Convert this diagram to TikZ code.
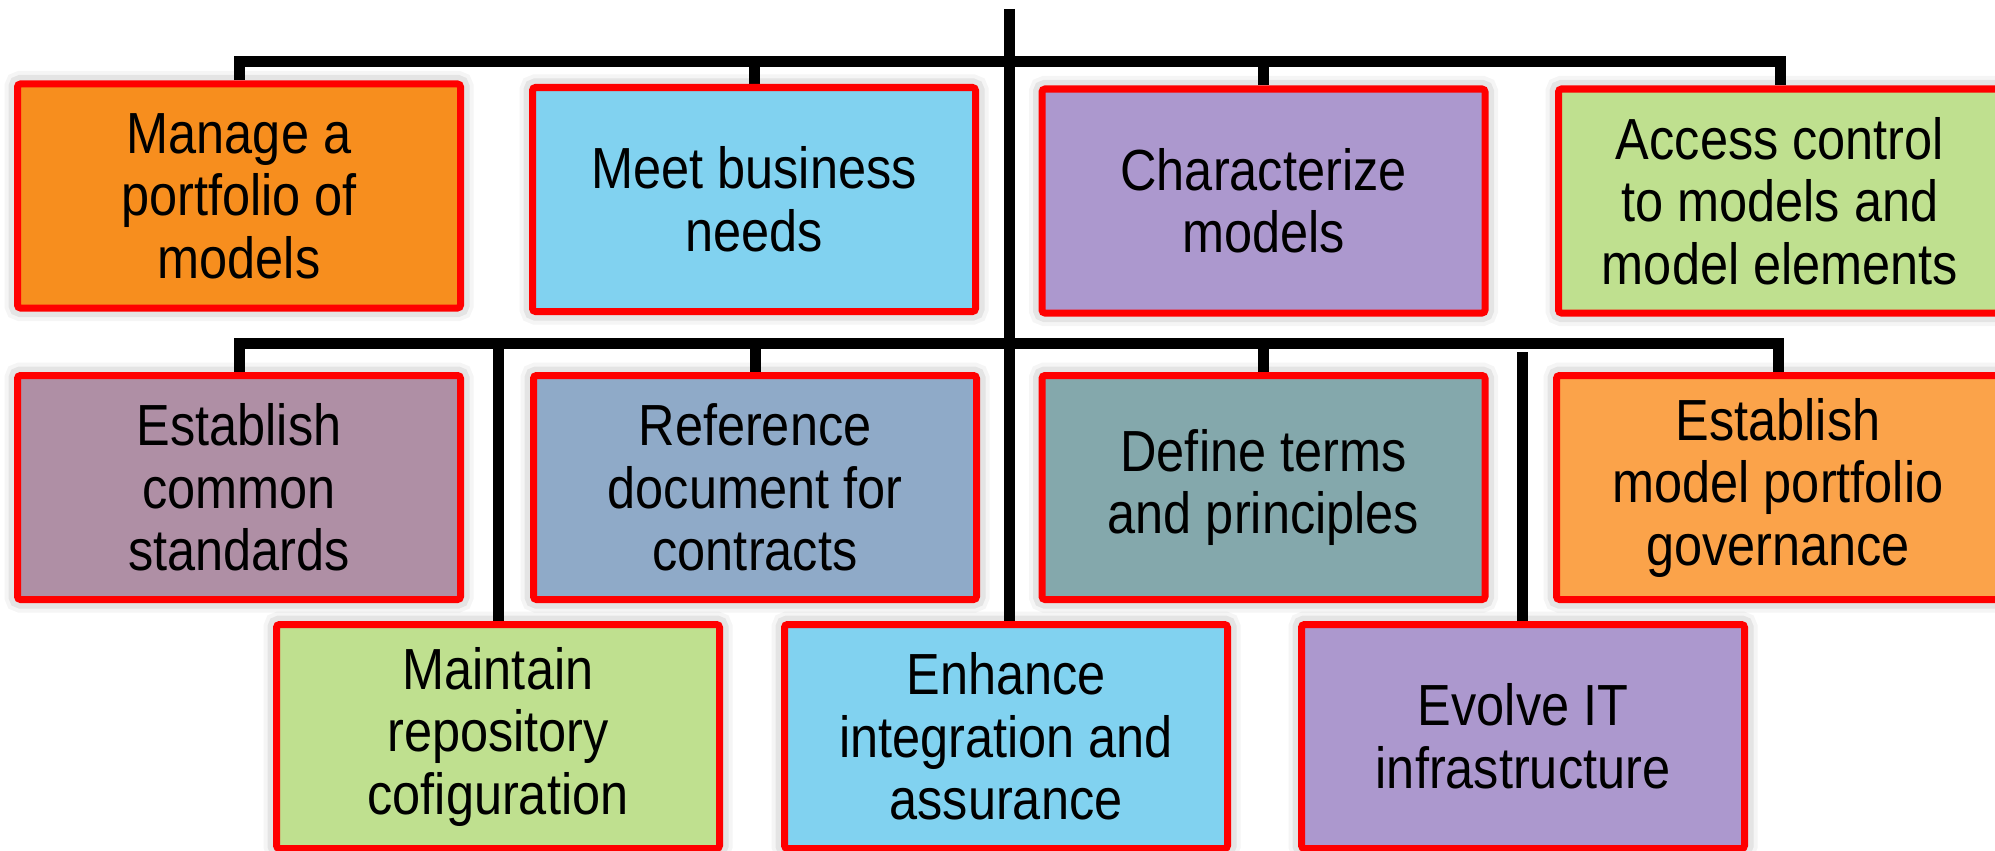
\documentclass[tikz,border=0pt]{standalone}
\usepackage{fontspec}
\setmainfont{Liberation Sans}[FakeStretch=0.87]
\usetikzlibrary{backgrounds}
\definecolor{cOrange}{HTML}{F78E1E}
\definecolor{cBlue}{HTML}{81D2F0}
\definecolor{cPurple}{HTML}{AC98CE}
\definecolor{cGreen}{HTML}{BFE08F}
\definecolor{cMauve}{HTML}{AF8FA5}
\definecolor{cSteel}{HTML}{8FAAC8}
\definecolor{cTeal}{HTML}{84A8AC}
\definecolor{cLOrange}{HTML}{FBA34A}
\definecolor{cRed}{HTML}{FF0000}
\begin{document}
\begin{tikzpicture}[x=1pt,y=-1pt,
  box/.style={draw=cRed, line width=7pt, rounded corners=3pt,
    minimum width=443pt, minimum height=224pt, inner sep=0pt,
    align=center, text=black, font=\fontsize{58}{62.5}\selectfont,
    preaction={draw=black, draw opacity=0.04, line width=26pt},
    preaction={draw=black, draw opacity=0.07, line width=18pt}},
  conn/.style={line width=11pt, draw=black, line join=miter}]
\useasboundingbox (0,0) rectangle (1995,851);
% row 1
\node[box, fill=cOrange] (A) at (239,196) {Manage a\\portfolio of\\models};
\node[box, fill=cBlue]   (B) at (754,199.5) {Meet business\\needs};
\node[box, fill=cPurple] (C) at (1263.5,201) {Characterize\\models};
\node[box, fill=cGreen]  (D) at (1780,201) {Access control\\to models and\\model elements};
% row 2
\node[box, fill=cMauve]   (E) at (239,487.5) {Establish\\common\\standards};
\node[box, fill=cSteel]   (F) at (755,487.5) {Reference\\document for\\contracts};
\node[box, fill=cTeal]    (G) at (1263.5,487.5) {Define terms\\and principles};
\node[box, fill=cLOrange] (H) at (1778,487.5) {Establish\\model portfolio\\governance};
% row 3
\node[box, fill=cGreen]  (I) at (498,736.5) {Maintain\\repository\\cofiguration};
\node[box, fill=cBlue]   (J) at (1006,736.5) {Enhance\\integration and\\assurance};
\node[box, fill=cPurple] (K) at (1523,736.5) {Evolve IT\\infrastructure};
% connectors
\begin{scope}[on background layer]
\coordinate (top) at (1009.5,9);
\coordinate (b1) at (1009.5,61.5);
\coordinate (b2) at (1009.5,343.5);
\coordinate (kt) at (1522,352);
\draw[conn] (A.north) -- (A.north |- b1) -- (D.north |- b1) -- (D.north);
\draw[conn] (B.north) -- (B.north |- b1);
\draw[conn] (C.north) -- (C.north |- b1);
\draw[conn] (top) -- (top |- J.north);
\draw[conn] (E.north) -- (E.north |- b2) -- (H.north |- b2) -- (H.north);
\draw[conn] (F.north) -- (F.north |- b2);
\draw[conn] (G.north) -- (G.north |- b2);
\draw[conn] (I.north |- b2) -- (I.north);
\draw[conn] (kt) -- (kt |- K.north);
\end{scope}
\end{tikzpicture}
\end{document}
